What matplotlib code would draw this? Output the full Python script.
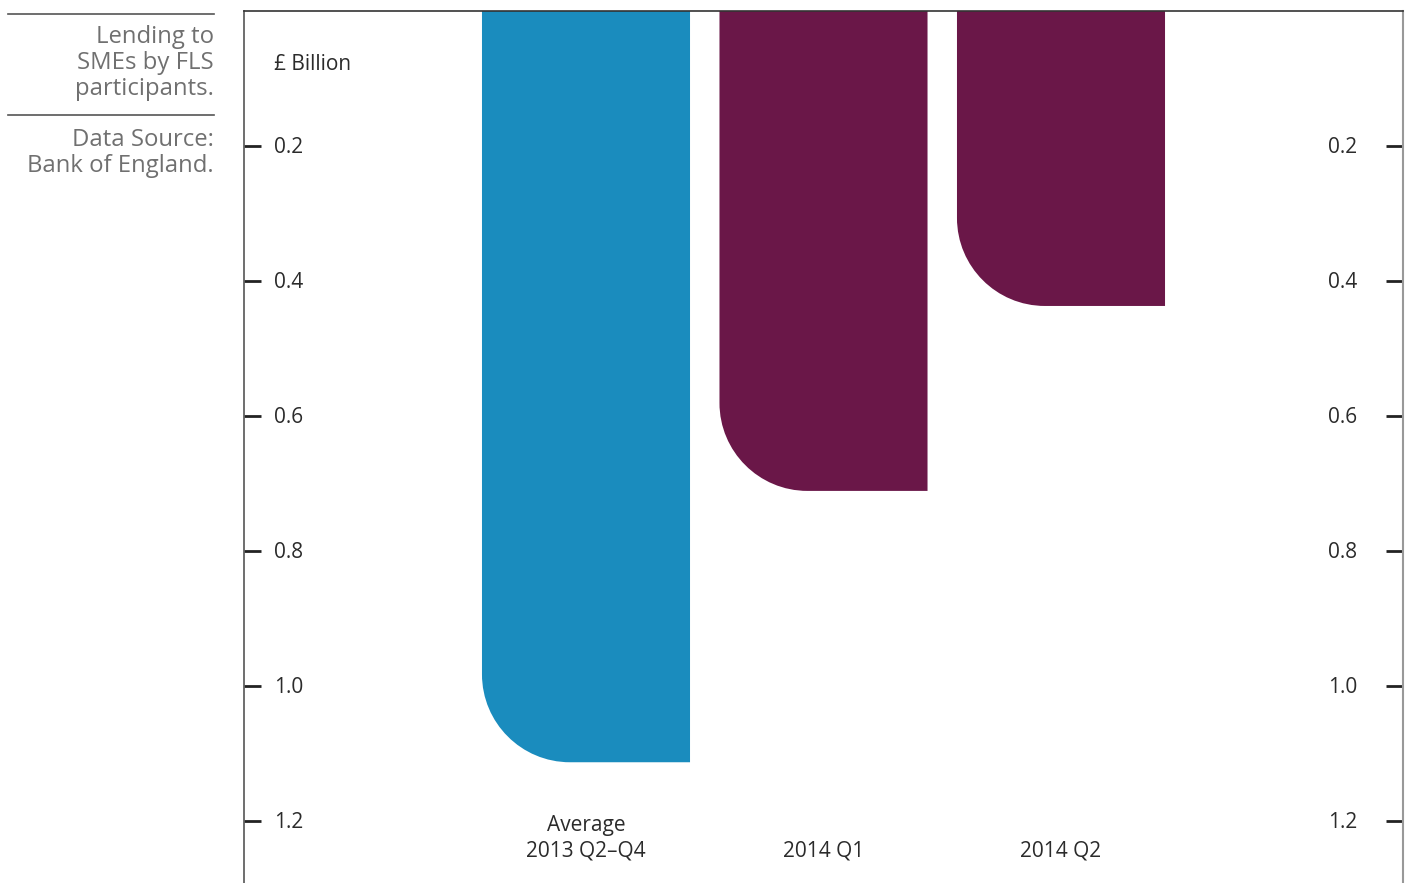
import numpy as np
import matplotlib; matplotlib.use("Agg")
import matplotlib.pyplot as plt
import matplotlib.transforms as mtransforms
from matplotlib.path import Path
from matplotlib.patches import PathPatch

plt.rcParams["font.family"] = ["Open Sans", "DejaVu Sans"]

categories = ["Average\n2013 Q2\u2013Q4", "2014 Q1", "2014 Q2"]
values     = [1.113, 0.711, 0.437]
colors     = ["#1a8cbe", "#6a1748", "#6a1748"]
yticks     = [0.2, 0.4, 0.6, 0.8, 1.0, 1.2]

W, H = 1409, 883
fig = plt.figure(figsize=(W / 100, H / 100), dpi=100)
ax = fig.add_axes([244 / W, 0, (1403 - 244) / W, (H - 11) / H])

x = np.arange(len(categories))
ax.set_xlim(-1.44, 3.44)
ax.set_ylim(1.2919, 0)   # inverted: 0 at top
bar_w = 0.876

# corner radius in pixels -> data units
r_px = 88
ax_w_px = (1403 - 244)
ax_h_px = (H - 11)
rx = r_px * (3.44 + 1.44) / ax_w_px
ry = r_px * 1.2919 / ax_h_px
k = 0.5523

for xi, v, c in zip(x, values, colors):
    x0, x1 = xi - bar_w / 2, xi + bar_w / 2
    verts = [(x0, 0), (x1, 0), (x1, v), (x0 + rx, v),
             (x0 + rx - k * rx, v), (x0, v - ry + k * ry), (x0, v - ry),
             (x0, 0)]
    codes = [Path.MOVETO, Path.LINETO, Path.LINETO, Path.LINETO,
             Path.CURVE4, Path.CURVE4, Path.CURVE4, Path.CLOSEPOLY]
    ax.add_patch(PathPatch(Path(verts, codes), facecolor=c, edgecolor="none"))

# axes frame
ax.spines["bottom"].set_visible(False)
ax.spines["left"].set_color("#555555"); ax.spines["left"].set_linewidth(1.2)
ax.spines["top"].set_color("#333333"); ax.spines["top"].set_linewidth(1.2)
ax.spines["right"].set_color("#999999"); ax.spines["right"].set_linewidth(1.5)

ax.set_xticks([])
ax.set_yticks(yticks)
ax.set_yticklabels([])
ax.tick_params(axis="y", direction="in", length=12, width=2, color="#222222",
               left=True, right=True)

shift = mtransforms.ScaledTranslation(0, -2 / 100, fig.dpi_scale_trans)
lab_kw = dict(fontsize=15, color="#2b2b2b", va="center")
tl = mtransforms.blended_transform_factory(ax.transAxes, ax.transData) + shift
for t in yticks:
    ax.text(30 / ax_w_px, t, f"{t:.1f}", transform=tl, ha="left", **lab_kw)
    ax.text(1 - 46 / ax_w_px, t, f"{t:.1f}", transform=tl, ha="right", **lab_kw)
ax.text(30 / ax_w_px, 1 - 51 / ax_h_px, "\u00a3 Billion",
        transform=ax.transAxes + shift, ha="left", **lab_kw)

# category labels
for xi, cat in zip(x, categories):
    n = cat.count("\n")
    ax.text(xi, (849 - 11 - 13 * n) / ax_h_px * 1.2919, cat, ha="center",
            va="center", fontsize=15, color="#2b2b2b", linespacing=1.3,
            transform=ax.transData + shift)

# left-hand side note
fig.add_artist(plt.Line2D([8 / W, 214 / W], [1 - 14 / H, 1 - 14 / H],
                          color="#555555", lw=1.2))
fig.add_artist(plt.Line2D([8 / W, 214 / W], [1 - 115 / H, 1 - 115 / H],
                          color="#555555", lw=1.2))
note_kw = dict(ha="right", va="center", fontsize=17.2, color="#707070",
               linespacing=1.12)
fig.text(214 / W, 1 - 63 / H, "Lending to\nSMEs by FLS\nparticipants.", **note_kw)
fig.text(214 / W, 1 - 153 / H, "Data Source:\nBank of England.", **note_kw)

fig.savefig("out.png", dpi=100)
